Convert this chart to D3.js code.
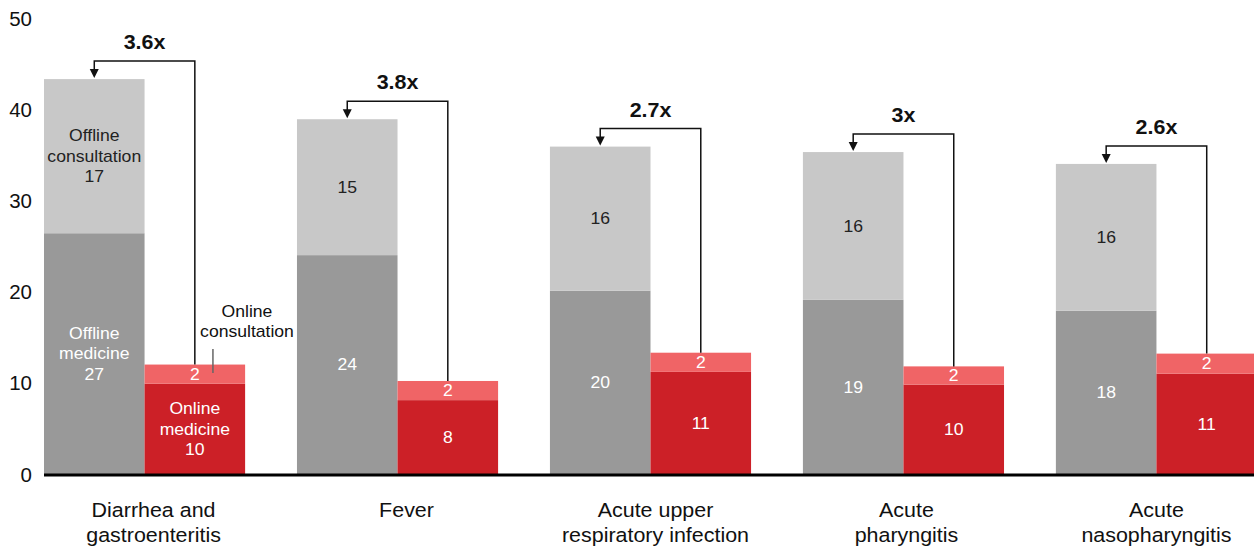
<!DOCTYPE html>
<html><head><meta charset="utf-8">
<script src="https://cdn.jsdelivr.net/npm/d3@7"></script>
<style>
html,body{margin:0;padding:0;background:#fff;}
svg{display:block;font-family:"Liberation Sans",Arial,sans-serif;}
</style></head>
<body>
<svg id="chart" width="1254" height="550"></svg>
<script>
const categories = [["Diarrhea and","gastroenteritis"],["Fever"],["Acute upper","respiratory infection"],["Acute","pharyngitis"],["Acute","nasopharyngitis"]];
const offlineMedicine = [26.4, 24.0, 20.1, 19.1, 17.9];
const offlineConsultation = [16.9, 14.9, 15.8, 16.2, 16.1];
const onlineMedicine = [9.9, 8.1, 11.2, 9.8, 11.0];
const onlineConsultation = [2.1, 2.1, 2.1, 2.0, 2.2];
const offlineMedicineLabels = ["27","24","20","19","18"];
const offlineConsultationLabels = ["17","15","16","16","16"];
const onlineMedicineLabels = ["10","8","11","10","11"];
const onlineConsultationLabels = ["2","2","2","2","2"];
const ratios = ["3.6x","3.8x","2.7x","3x","2.6x"];
const yTicks = [0,10,20,30,40,50];

const SX = 1.1; // horizontal stretch of text seen in the reference

const svg = d3.select("#chart");
const idx = d3.range(categories.length);
const x = d3.scaleBand().domain(idx).range([44, 1257]).paddingInner(0.205).paddingOuter(0);
const sub = d3.scaleBand().domain(["offline","online"]).range([0, x.bandwidth()]);
const y = d3.scaleLinear().domain([0,50]).range([474, 18]);

const colors = {offMed:"#999999", offCon:"#c8c8c8", onMed:"#cc2027", onCon:"#f06466"};

// y tick labels
const yAxis = d3.axisLeft(y).tickValues(yTicks).tickSize(0).tickPadding(0);
const ya = svg.append("g").attr("transform","translate(32,0)").call(yAxis);
ya.select(".domain").remove();
ya.selectAll("text").attr("font-size",20.5).attr("fill","#111").attr("dy","0.35em")
  .style("font-family","'Liberation Sans',Arial,sans-serif");

// helper for multi-line, horizontally stretched text
function mtext(g, cx, cy, lines, lh, opts){
  const t = g.append("text")
    .attr("transform", `translate(${cx},${cy}) scale(${SX},1)`)
    .attr("text-anchor","middle")
    .attr("font-size", opts.size)
    .attr("fill", opts.fill)
    .attr("font-weight", opts.weight || "normal");
  lines.forEach((s,k)=>{
    t.append("tspan").attr("x",0).attr("y", k*lh + (opts.dy||0)).text(s);
  });
  return t;
}

// segments data
const segs = [];
idx.forEach(i=>{
  segs.push({i, key:"offline", y0:0, y1:offlineMedicine[i], c:colors.offMed, lab: i===0?["Offline","medicine",offlineMedicineLabels[i]]:[offlineMedicineLabels[i]], tc:"#ffffff"});
  segs.push({i, key:"offline", y0:offlineMedicine[i], y1:offlineMedicine[i]+offlineConsultation[i], c:colors.offCon, lab: i===0?["Offline","consultation",offlineConsultationLabels[i]]:[offlineConsultationLabels[i]], tc:"#222"});
  segs.push({i, key:"online", y0:0, y1:onlineMedicine[i], c:colors.onMed, lab: i===0?["Online","medicine",onlineMedicineLabels[i]]:[onlineMedicineLabels[i]], tc:"#ffffff"});
  segs.push({i, key:"online", y0:onlineMedicine[i], y1:onlineMedicine[i]+onlineConsultation[i], c:colors.onCon, lab:[onlineConsultationLabels[i]], tc:"#ffffff"});
});

svg.append("g").selectAll("rect").data(segs).join("rect")
  .attr("x", d=>x(d.i)+sub(d.key))
  .attr("width", sub.bandwidth())
  .attr("y", d=>y(d.y1))
  .attr("height", d=>y(d.y0)-y(d.y1))
  .attr("fill", d=>d.c);

const lh = 20.5;
const labG = svg.append("g");
segs.forEach(d=>{
  const cx = x(d.i)+sub(d.key)+sub.bandwidth()/2;
  const cy = (y(d.y0)+y(d.y1))/2;
  const n = d.lab.length;
  mtext(labG, cx, cy - (n-1)/2*lh, d.lab, lh, {size:16, fill:d.tc, dy:5.7});
});

// baseline
svg.append("line").attr("x1",44).attr("x2",1254).attr("y1",y(0)+1).attr("y2",y(0)+1)
  .attr("stroke","#000").attr("stroke-width",3);

// ratio arrows
const arr = svg.append("g");
idx.forEach(i=>{
  const offTop = y(offlineMedicine[i]+offlineConsultation[i]);
  const onTop = y(onlineMedicine[i]+onlineConsultation[i]);
  const xOff = x(i)+sub("offline")+sub.bandwidth()/2;
  const xOn = x(i)+sub("online")+sub.bandwidth()/2;
  const hy = offTop-18;
  arr.append("path")
    .attr("d", `M${xOn},${onTop} V${hy} H${xOff} V${offTop-8}`)
    .attr("fill","none").attr("stroke","#111").attr("stroke-width",1.5);
  arr.append("path")
    .attr("d", `M${xOff-4.5},${offTop-10} L${xOff+4.5},${offTop-10} L${xOff},${offTop-1} Z`)
    .attr("fill","#111");
  mtext(arr, x(i)+x.bandwidth()/2, offTop-30, [ratios[i]], 0, {size:19.5, fill:"#111", weight:"bold"});
});

// online consultation annotation (first group)
const oc0x = x(0)+sub("online")+sub.bandwidth()*0.68;
svg.append("line").attr("x1",oc0x).attr("x2",oc0x).attr("y1",349).attr("y2",373)
  .attr("stroke","#666").attr("stroke-width",1.5);
mtext(svg, 247, 317, ["Online","consultation"], lh, {size:16, fill:"#111"});

// category labels
const labOffset = [9,9,5,3,0];
const catG = svg.append("g");
idx.forEach(i=>{
  mtext(catG, x(i)+x.bandwidth()/2+labOffset[i], 517, categories[i], 25.5, {size:19.5, fill:"#111"});
});
</script>
</body></html>
